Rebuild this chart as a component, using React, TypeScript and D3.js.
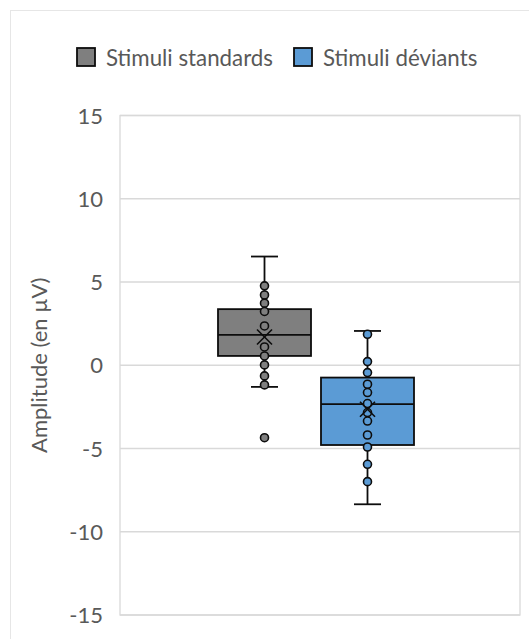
import React from "react";
import * as d3 from "d3";

const seriesNames = ["Stimuli standards", "Stimuli déviants"];
const seriesColors = ["#7f7f7f", "#5b9bd5"];
const standardsPoints = [4.77, 4.22, 3.73, 3.23, 2.36, 1.1, 0.56, 0.02, -0.64, -1.18, -4.35];
const deviantsPoints = [1.86, 0.22, -0.44, -1.14, -1.64, -2.3, -2.84, -3.35, -4.19, -4.91, -5.95, -6.99];
const whiskerLow = [-1.3, -8.35];
const q1 = [0.56, -4.79];
const median = [1.82, -2.34];
const q3 = [3.37, -0.74];
const whiskerHigh = [6.53, 2.06];
const means = [1.7, -2.64];
const yTicks = [-15, -10, -5, 0, 5, 10, 15];
const yTitle = "Amplitude (en µV)";

const W = 529;
const H = 639;
const FONT = "Lato, 'Open Sans', sans-serif";
const TEXT = "#595959";
const GRID = "#d9d9d9";

export default function App() {
  const plot = { left: 120, right: 520, top: 115.5, bottom: 615 };
  const y = d3.scaleLinear().domain([-15, 15]).range([plot.bottom, plot.top]);
  const x = d3.scaleBand<string>().domain(seriesNames).range([218, 414]).paddingInner(0.097);
  const bw = x.bandwidth();
  const allPoints = [standardsPoints, deviantsPoints];
  const capW = 27;
  const mk = 7.5;

  return (
    <svg
      width={W}
      height={H}
      style={{ position: "absolute", left: 0, top: 0, background: "#fff" }}
      fontFamily={FONT}
    >
      <rect x={10.5} y={10.5} width={W} height={H} fill="#fff" stroke="#e6e6e6" strokeWidth={1} />

      {/* legend */}
      {seriesNames.map((name, i) => {
        const lx = i === 0 ? 77 : 294;
        return (
          <g key={name}>
            <rect x={lx} y={48} width={18} height={18} fill={seriesColors[i]} stroke="#0d0d0d" strokeWidth={1.8} />
            <text x={lx + 29} y={66} fontSize={22.3} fill={TEXT}>
              {name}
            </text>
          </g>
        );
      })}

      {/* gridlines */}
      {yTicks.map((t) => (
        <line key={t} x1={plot.left} x2={plot.right} y1={y(t)} y2={y(t)} stroke={GRID} strokeWidth={1.3} />
      ))}
      <rect
        x={plot.left}
        y={plot.top}
        width={plot.right - plot.left}
        height={plot.bottom - plot.top}
        fill="none"
        stroke={GRID}
        strokeWidth={1.3}
      />

      {/* y tick labels */}
      {yTicks.map((t) => (
        <text key={t} x={103} y={y(t) + 8} textAnchor="end" fontSize={22} fill={TEXT}>
          {t}
        </text>
      ))}
      <text
        transform={`translate(47,${(plot.top + plot.bottom) / 2}) rotate(-90)`}
        textAnchor="middle"
        fontSize={22}
        fill={TEXT}
      >
        {yTitle}
      </text>

      {/* boxes */}
      {seriesNames.map((name, i) => {
        const x0 = x(name)!;
        const cx = x0 + bw / 2;
        return (
          <g key={name} stroke="#0d0d0d" strokeWidth={1.8}>
            <line x1={cx} x2={cx} y1={y(whiskerHigh[i])} y2={y(q3[i])} />
            <line x1={cx} x2={cx} y1={y(q1[i])} y2={y(whiskerLow[i])} />
            <line x1={cx - capW / 2} x2={cx + capW / 2} y1={y(whiskerHigh[i])} y2={y(whiskerHigh[i])} />
            <line x1={cx - capW / 2} x2={cx + capW / 2} y1={y(whiskerLow[i])} y2={y(whiskerLow[i])} />
            <rect x={x0} y={y(q3[i])} width={bw} height={y(q1[i]) - y(q3[i])} fill={seriesColors[i]} />
            <line x1={x0} x2={x0 + bw} y1={y(median[i])} y2={y(median[i])} />
            {allPoints[i].map((v, j) => (
              <circle key={j} cx={cx} cy={y(v)} r={4} fill={seriesColors[i]} strokeWidth={1.6} />
            ))}
            <line x1={cx - mk} x2={cx + mk} y1={y(means[i]) - mk} y2={y(means[i]) + mk} strokeWidth={1.6} />
            <line x1={cx - mk} x2={cx + mk} y1={y(means[i]) + mk} y2={y(means[i]) - mk} strokeWidth={1.6} />
          </g>
        );
      })}
    </svg>
  );
}
